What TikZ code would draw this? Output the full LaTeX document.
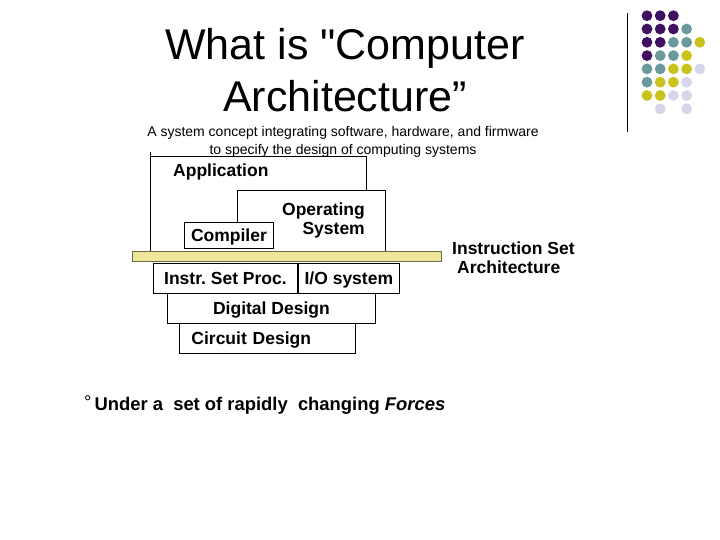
\documentclass[tikz,border=0pt]{standalone}
\usepackage{fontspec}
\setmainfont{Liberation Sans}
\usepackage{xcolor}
\usepackage{tikz}
\usetikzlibrary{positioning, calc}
\definecolor{dotpurple}{HTML}{3F1160}
\definecolor{dotteal}{HTML}{6B9A9C}
\definecolor{dotyellow}{HTML}{C9C41C}
\definecolor{dotlilac}{HTML}{D6D6E8}
\definecolor{isafill}{HTML}{EEE79A}
\definecolor{isaedge}{HTML}{6E6A40}
\frenchspacing

\begin{document}
\begin{tikzpicture}[
    x=1pt, y=-1pt,
    frameline/.style={draw, line width=0.9pt},
    layerbox/.style={draw, line width=0.9pt, minimum height=30pt, inner sep=0pt, anchor=north west, text height=13pt, text depth=-1pt, font=\fontsize{17.5}{19}\selectfont\bfseries},
    plainlabel/.style={inner sep=0pt, font=\fontsize{17.5}{19}\selectfont\bfseries},
    isaband/.style={draw=isaedge, line width=0.6pt, fill=isafill, minimum width=309pt, minimum height=10pt, inner sep=0pt, anchor=north west},
]
    \useasboundingbox[fill=white] (0,0) rectangle (720,540);

    % Heading
    \node[align=center, inner sep=0pt, font=\fontsize{43}{52}\selectfont] (title) at (345,70) {What is {\addfontfeature{Ligatures=TeXOff}"}Computer\\Architecture”};
    \node[align=center, inner sep=0pt, font=\fontsize{14}{18}\selectfont] (subtitle) at (343,141.6) {A system concept integrating software, hardware, and firmware\\to specify the design of computing systems};

    % Decoration
    \draw[line width=0.9pt] (627,13) coordinate (ruletop) -- (627,132) coordinate (rulebottom);
    \foreach \i/\j/\c in {0/0/dotpurple, 1/0/dotpurple, 2/0/dotpurple,
                          0/1/dotpurple, 1/1/dotpurple, 2/1/dotpurple, 3/1/dotteal,
                          0/2/dotpurple, 1/2/dotpurple, 2/2/dotteal, 3/2/dotteal, 4/2/dotyellow,
                          0/3/dotpurple, 1/3/dotteal, 2/3/dotteal, 3/3/dotyellow,
                          0/4/dotteal, 1/4/dotteal, 2/4/dotyellow, 3/4/dotyellow, 4/4/dotlilac,
                          0/5/dotteal, 1/5/dotyellow, 2/5/dotyellow, 3/5/dotlilac,
                          0/6/dotyellow, 1/6/dotyellow, 2/6/dotlilac, 3/6/dotlilac,
                          1/7/dotlilac, 3/7/dotlilac}
        \fill[\c] ({647+13.2*\i},{15.7+13.3*\j}) circle (5.4);

    % Instruction set band
    \node[isaband] (isa) at (132,251) {};
    \node[plainlabel, align=left, anchor=west] (isalabel) at (452,257.6) {Instruction Set\\\hspace{5pt}Architecture};

    % Software side
    \coordinate (appcorner) at (150,156);
    \coordinate (append) at (366,156);
    \coordinate (oscorner) at (237,190);
    \coordinate (osend) at (385,190);
    \node[layerbox, minimum width=89pt, minimum height=26pt] (compiler) at (184,222) {Compiler};
    \node[plainlabel, anchor=base west] (application) at (173,177) {Application};
    \node[plainlabel, align=right, anchor=east] (os) at (365,220) {Operating\\System};
    \draw[frameline] ([yshift=4pt]appcorner) -- (appcorner |- isa.north);
    \draw[frameline] (appcorner) -- (append) -- (append |- oscorner);
    \draw[frameline] (compiler.north -| oscorner) -- (oscorner) -- (osend) -- (osend |- isa.north);

    % Hardware side
    \node[layerbox, minimum width=144pt] (isp) at (153,263) {Instr. Set Proc.};
    \node[layerbox, minimum width=101pt] (io) at (isp.north east) {I/O system};
    \node[layerbox, minimum width=208pt] (digital) at (167,293) {Digital Design};
    \node[layerbox, text width=152pt, inner xsep=12pt, align=left] (circuit) at (179,323) {Circuit Design};

    % Footnote
    \node[plainlabel, anchor=base west, font=\fontsize{18.4}{20}\selectfont\bfseries] (forces) at (84,410) {{\mdseries\raisebox{2pt}{°}}\hspace{3pt}Under a~ set of rapidly~ changing \textit{Forces}};
\end{tikzpicture}
\end{document}
